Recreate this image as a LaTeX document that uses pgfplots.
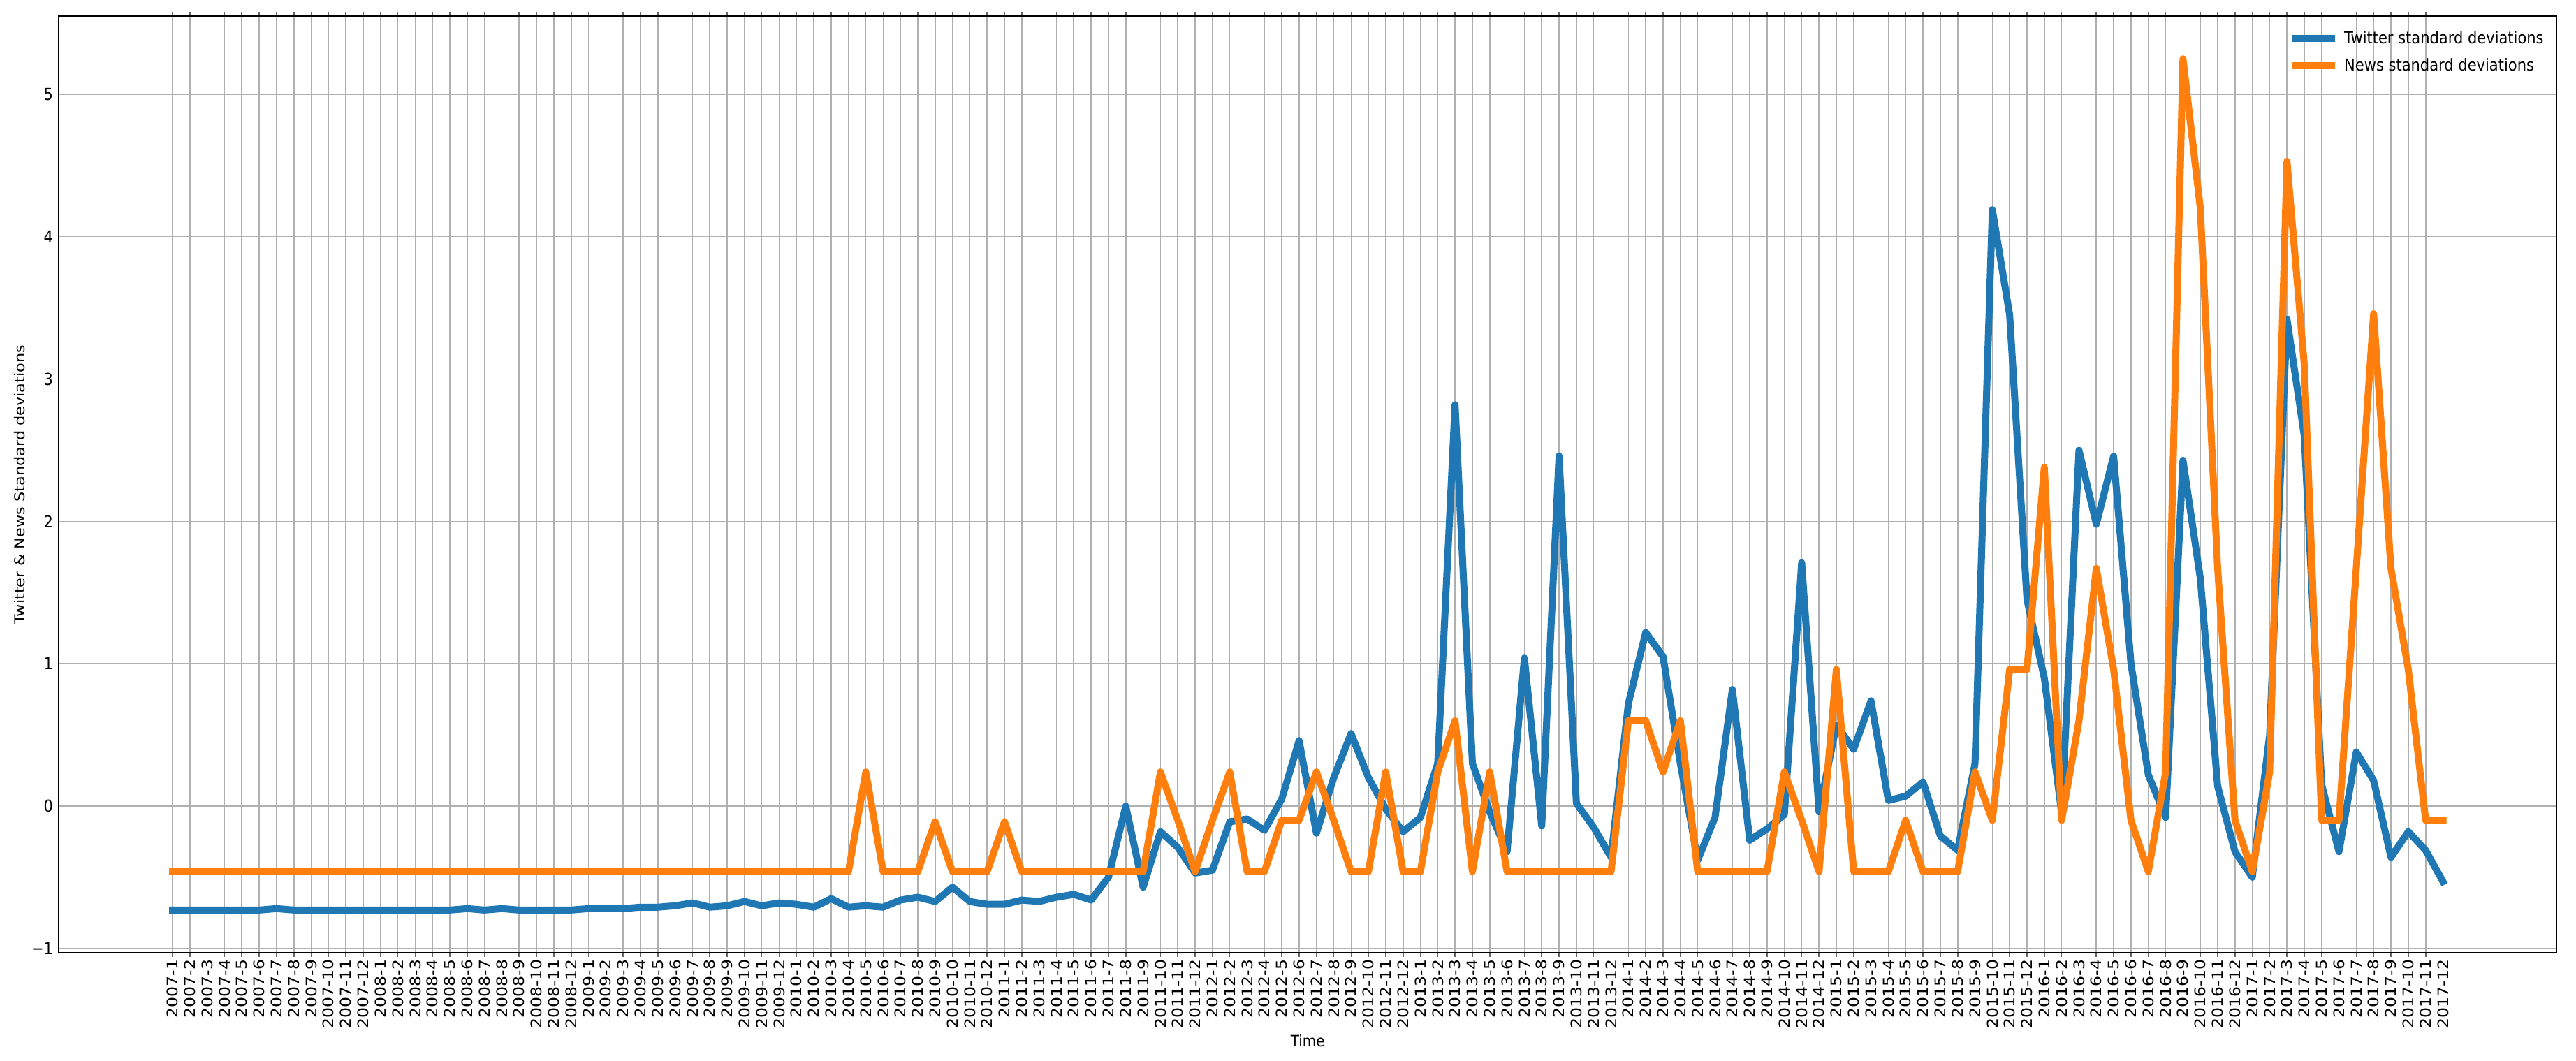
\documentclass[border=0pt]{standalone}
\usepackage{fontspec}
\setmainfont{DejaVu Sans}
\usepackage{pgfplots}
\usepackage{pgfplotstable}
\pgfplotsset{compat=1.18}

\definecolor{twblue}{HTML}{1F77B4}
\definecolor{nworange}{HTML}{FF7F0E}
\definecolor{gridgray}{HTML}{B0B0B0}

% monthly standard deviations
\pgfplotstableread{
idx month twitter news
0 2007-1 -0.73 -0.46
1 2007-2 -0.73 -0.46
2 2007-3 -0.73 -0.46
3 2007-4 -0.73 -0.46
4 2007-5 -0.73 -0.46
5 2007-6 -0.73 -0.46
6 2007-7 -0.72 -0.46
7 2007-8 -0.73 -0.46
8 2007-9 -0.73 -0.46
9 2007-10 -0.73 -0.46
10 2007-11 -0.73 -0.46
11 2007-12 -0.73 -0.46
12 2008-1 -0.73 -0.46
13 2008-2 -0.73 -0.46
14 2008-3 -0.73 -0.46
15 2008-4 -0.73 -0.46
16 2008-5 -0.73 -0.46
17 2008-6 -0.72 -0.46
18 2008-7 -0.73 -0.46
19 2008-8 -0.72 -0.46
20 2008-9 -0.73 -0.46
21 2008-10 -0.73 -0.46
22 2008-11 -0.73 -0.46
23 2008-12 -0.73 -0.46
24 2009-1 -0.72 -0.46
25 2009-2 -0.72 -0.46
26 2009-3 -0.72 -0.46
27 2009-4 -0.71 -0.46
28 2009-5 -0.71 -0.46
29 2009-6 -0.70 -0.46
30 2009-7 -0.68 -0.46
31 2009-8 -0.71 -0.46
32 2009-9 -0.70 -0.46
33 2009-10 -0.67 -0.46
34 2009-11 -0.70 -0.46
35 2009-12 -0.68 -0.46
36 2010-1 -0.69 -0.46
37 2010-2 -0.71 -0.46
38 2010-3 -0.65 -0.46
39 2010-4 -0.71 -0.46
40 2010-5 -0.70 0.24
41 2010-6 -0.71 -0.46
42 2010-7 -0.66 -0.46
43 2010-8 -0.64 -0.46
44 2010-9 -0.67 -0.11
45 2010-10 -0.57 -0.46
46 2010-11 -0.67 -0.46
47 2010-12 -0.69 -0.46
48 2011-1 -0.69 -0.11
49 2011-2 -0.66 -0.46
50 2011-3 -0.67 -0.46
51 2011-4 -0.64 -0.46
52 2011-5 -0.62 -0.46
53 2011-6 -0.66 -0.46
54 2011-7 -0.50 -0.46
55 2011-8 0.00 -0.46
56 2011-9 -0.57 -0.46
57 2011-10 -0.18 0.24
58 2011-11 -0.29 -0.10
59 2011-12 -0.47 -0.46
60 2012-1 -0.45 -0.10
61 2012-2 -0.11 0.24
62 2012-3 -0.09 -0.46
63 2012-4 -0.17 -0.46
64 2012-5 0.05 -0.10
65 2012-6 0.46 -0.10
66 2012-7 -0.19 0.24
67 2012-8 0.20 -0.10
68 2012-9 0.51 -0.46
69 2012-10 0.20 -0.46
70 2012-11 -0.02 0.24
71 2012-12 -0.18 -0.46
72 2013-1 -0.08 -0.46
73 2013-2 0.30 0.24
74 2013-3 2.82 0.60
75 2013-4 0.30 -0.46
76 2013-5 -0.04 0.24
77 2013-6 -0.32 -0.46
78 2013-7 1.04 -0.46
79 2013-8 -0.14 -0.46
80 2013-9 2.46 -0.46
81 2013-10 0.02 -0.46
82 2013-11 -0.15 -0.46
83 2013-12 -0.36 -0.46
84 2014-1 0.72 0.60
85 2014-2 1.22 0.60
86 2014-3 1.05 0.24
87 2014-4 0.30 0.60
88 2014-5 -0.38 -0.46
89 2014-6 -0.08 -0.46
90 2014-7 0.82 -0.46
91 2014-8 -0.24 -0.46
92 2014-9 -0.16 -0.46
93 2014-10 -0.06 0.24
94 2014-11 1.71 -0.10
95 2014-12 -0.04 -0.46
96 2015-1 0.57 0.96
97 2015-2 0.40 -0.46
98 2015-3 0.74 -0.46
99 2015-4 0.04 -0.46
100 2015-5 0.07 -0.10
101 2015-6 0.17 -0.46
102 2015-7 -0.21 -0.46
103 2015-8 -0.31 -0.46
104 2015-9 0.30 0.24
105 2015-10 4.19 -0.10
106 2015-11 3.45 0.96
107 2015-12 1.45 0.96
108 2016-1 0.90 2.38
109 2016-2 -0.05 -0.10
110 2016-3 2.50 0.60
111 2016-4 1.98 1.67
112 2016-5 2.46 0.96
113 2016-6 1.00 -0.10
114 2016-7 0.22 -0.46
115 2016-8 -0.08 0.24
116 2016-9 2.43 5.25
117 2016-10 1.60 4.20
118 2016-11 0.14 1.67
119 2016-12 -0.32 -0.10
120 2017-1 -0.50 -0.46
121 2017-2 0.50 0.24
122 2017-3 3.42 4.53
123 2017-4 2.60 3.10
124 2017-5 0.15 -0.10
125 2017-6 -0.32 -0.10
126 2017-7 0.38 1.67
127 2017-8 0.18 3.46
128 2017-9 -0.36 1.67
129 2017-10 -0.18 0.96
130 2017-11 -0.31 -0.10
131 2017-12 -0.53 -0.10
}\stdev

\newcommand{\chartfont}{\fontsize{10.5}{12}\selectfont}

\begin{document}
\begin{tikzpicture}
\begin{axis}[
    name=ax,
    scale only axis,
    width=1787.75pt, height=670.5pt,
    xmin=-6.55, xmax=137.55,
    ymin=-1.03, ymax=5.55,
    xtick=data,
    xticklabels from table={\stdev}{month},
    ytick={-1,0,1,2,3,4,5},
    yticklabels={−1,0,1,2,3,4,5},
    grid=major,
    major grid style={gridgray, line width=0.8pt},
    tick align=outside,
    major tick length=3pt,
    x tick style={black!60, line width=0.8pt},
    y tick style={draw=none},
    axis line style={black, line width=1pt},
    tick label style={font=\chartfont},
    xticklabel style={rotate=90, xscale=1.12, anchor=east, inner sep=1.5pt},
    yticklabel style={yscale=1.12, anchor=east, inner sep=1pt},
    xlabel={Time},
    ylabel={Twitter \& News Standard deviations},
    label style={font=\chartfont},
    every axis x label/.style={at={(axis description cs:0.5,-0.094)}, anchor=center, yscale=1.12},
    every axis y label/.style={at={(axis description cs:-0.0158,0.5)}, anchor=center, rotate=90, xscale=1.12},
    legend cell align=left,
    legend image code/.code={\draw[#1] (0pt,0pt) -- (26pt,0pt);},
    legend style={draw=none, fill=none, at={(axis description cs:1,1)}, anchor=north east,
        xshift=-9pt, yshift=-10.5pt, inner sep=0pt, font=\chartfont, row sep=9pt,
        nodes={inner sep=0pt, yscale=1.12},
        /tikz/every odd column/.append style={column sep=6.5pt}},
]
\addplot[twblue, line width=5pt, line join=round, line cap=rect] table[x=idx, y=twitter]{\stdev};
\addlegendentry{Twitter standard deviations}
\addplot[nworange, line width=5pt, line join=round, line cap=rect] table[x=idx, y=news]{\stdev};
\addlegendentry{News standard deviations}
\end{axis}
\pgfresetboundingbox
\path[use as bounding box] ([xshift=-42.25pt,yshift=-77.5pt]ax.south west) rectangle ([xshift=14pt,yshift=11.5pt]ax.north east);
\end{tikzpicture}
\end{document}
